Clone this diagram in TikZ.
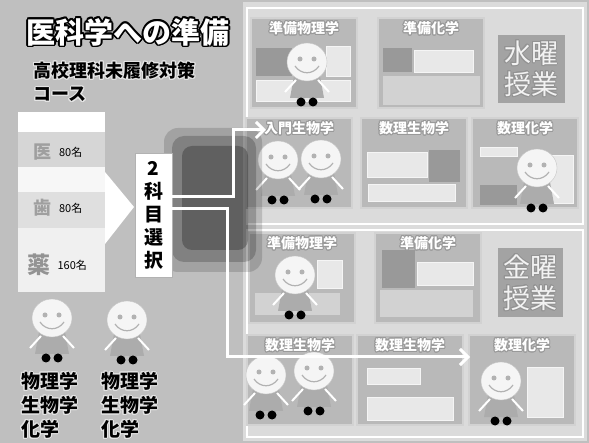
\documentclass[tikz,border=0pt]{standalone}
\usepackage{fontspec}
\setmainfont{Noto Sans CJK JP}
\usepackage{contour}
\contourlength{1pt}
\usetikzlibrary{positioning, arrows.meta}
\tikzstyle{panel} = [rectangle, inner sep=0pt, minimum width=106pt, minimum height=90pt, fill=gray!55, draw=gray!35, line width=1.5pt]
\tikzstyle{daypanel} = [rectangle, inner sep=0pt, minimum width=67pt, minimum height=68pt, fill=gray!72, text=gray!10, align=center, font=\fontsize{27}{31}\selectfont]
\tikzstyle{ptitle} = [text=white, inner sep=1pt, font=\bfseries\fontsize{14}{15}\selectfont]
\tikzstyle{bar} = [fill=gray!18, draw=gray!8]
\tikzstyle{block} = [fill=gray!80]
\tikzstyle{warrow} = [draw=white, line width=3pt, -{Straight Barb[length=8pt, width=16pt, line width=3pt]}]
\newcommand{\halo}[1]{\contour{gray!20}{#1}}

\tikzset{kid/.pic={
    \fill[gray!65] (-13,14) -- (13,14) -- (17,36) -- (-17,36) -- cycle;
    \draw[white, line width=2pt] (-11,18) -- (-22,30) (11,18) -- (22,30);
    \fill[black] (-6,40) circle (4.5) (6,40) circle (4.5);
    \filldraw[fill=gray!8, draw=gray!45] (0,0) ellipse (20 and 19);
    \fill[gray!60] (-7,-3) circle (2.5) (7,-3) circle (2.5);
    \draw[gray!60, line width=1.2pt] (-12,4) .. controls (-6,13) and (6,13) .. (12,4);
}}

\begin{document}
\begin{tikzpicture}[x=1pt, y=-1pt]
    \useasboundingbox (0,0) rectangle (589,443);
    \fill[gray!50] (0,0) rectangle (589,443);

    % course frame on the right
    \fill[gray!28] (243,2) rectangle (587,441);
    \draw[white, line width=2pt] (247,8) rectangle (583,224);
    \draw[white, line width=2pt] (247,230) rectangle (583,437);

    \node (p1) [panel] at (304,63) {};
    \node (p2) [panel] at (431,63) {};
    \node (wed) [daypanel] at (531,69) {\contour{gray!85}{水曜}\\\contour{gray!85}{授業}};
    \node (p4) [panel] at (299,163) {};
    \node (p5) [panel] at (414,163) {};
    \node (p6) [panel] at (525,163) {};
    \node (p7) [panel] at (302,278) {};
    \node (p8) [panel] at (428,278) {};
    \node (fri) [daypanel, minimum width=65pt, minimum height=69pt] at (530,283) {\contour{gray!85}{金曜}\\\contour{gray!85}{授業}};
    \node (p10) [panel] at (300,380) {};
    \node (p11) [panel] at (410,380) {};
    \node (p12) [panel] at (522,380) {};

    \fill[block] (256,48) rectangle (292,76);
    \fill[bar] (256,80) rectangle (350,101);
    \fill[bar] (326,46) rectangle (350,76);
    \fill[block] (383,48) rectangle (412,72);
    \fill[bar] (414,50) rectangle (473,72);
    \fill[gray!35] (383,76) rectangle (480,105);
    \fill[bar] (367,152) rectangle (427,177);
    \fill[block] (429,150) rectangle (460,182);
    \fill[bar] (368,184) rectangle (455,201);
    \fill[bar] (480,147) rectangle (517,156);
    \fill[bar] (542,155) rectangle (573,203);
    \fill[block] (480,185) rectangle (517,205);
    \fill[bar] (317,260) rectangle (342,288);
    \fill[gray!35] (255,293) rectangle (340,315);
    \fill[block] (382,250) rectangle (415,288);
    \fill[bar] (417,262) rectangle (473,285);
    \fill[gray!35] (380,290) rectangle (473,317);
    \fill[bar] (367,368) rectangle (420,384);
    \fill[bar] (367,397) rectangle (453,420);
    \fill[bar] (527,367) rectangle (563,417);

    \node (t1) [ptitle, below=3pt of p1.north] {\contour{gray!80}{準備物理学}};
    \node (t2) [ptitle, below=3pt of p2.north] {\contour{gray!80}{準備化学}};
    \node (t4) [ptitle, below=3pt of p4.north] {\contour{gray!80}{入門生物学}};
    \node (t5) [ptitle, below=3pt of p5.north] {\contour{gray!80}{数理生物学}};
    \node (t6) [ptitle, below=3pt of p6.north] {\contour{gray!80}{数理化学}};
    \node (t7) [ptitle, below=3pt of p7.north] {\contour{gray!80}{準備物理学}};
    \node (t8) [ptitle, below=3pt of p8.north] {\contour{gray!80}{準備化学}};
    \node (t10) [ptitle, below=3pt of p10.north] {\contour{gray!80}{数理生物学}};
    \node (t11) [ptitle, below=3pt of p11.north] {\contour{gray!80}{数理生物学}};
    \node (t12) [ptitle, below=3pt of p12.north] {\contour{gray!80}{数理化学}};

    \pic at (307,62) {kid};
    \pic at (278,160) {kid};
    \pic at (321,159) {kid};
    \pic at (537,168) {kid};
    \pic at (295,275) {kid};
    \pic at (266,375) {kid};
    \pic at (314,371) {kid};
    \pic at (501,381) {kid};

    % title and faculty column
    \node (title) [text=white, font=\bfseries\fontsize{29}{30}\selectfont] at (128,33) {\contourlength{1.6pt}\contour{black}{医科学への準備}};
    \node (course) [anchor=west, font=\bfseries\fontsize{18}{19}\selectfont] at (30,71) {\halo{高校理科未履修対策}};
    \node (course2) [below=0pt of course.south west, anchor=north west, font=\bfseries\fontsize{18}{19}\selectfont] {\halo{コース}};

    \fill[white] (18,112) rectangle (105,132);
    \fill[gray!32] (18,132) rectangle (105,167);
    \fill[gray!6] (18,167) rectangle (105,192);
    \fill[gray!25] (18,192) rectangle (105,228);
    \fill[gray!12] (18,228) rectangle (105,292);
    \fill[white] (105,172) -- (134,207) -- (105,244) -- cycle;

    \node (med) [text=gray!75, font=\bfseries\fontsize{18}{18}\selectfont] at (42,152) {医};
    \node (medn) [right=1pt of med, font=\fontsize{11}{11}\selectfont] {80名};
    \node (dent) [text=gray!75, font=\bfseries\fontsize{18}{18}\selectfont] at (42,208) {歯};
    \node (dentn) [right=1pt of dent, font=\fontsize{11}{11}\selectfont] {80名};
    \node (pharm) [text=gray!85, font=\bfseries\fontsize{23}{23}\selectfont] at (39,265) {薬};
    \node (pharmn) [right=0pt of pharm, font=\fontsize{11}{11}\selectfont] {160名};

    % soft shadow behind the choice box
    \fill[black, opacity=0.15, rounded corners=14pt] (164,128) rectangle (262,272);
    \fill[black, opacity=0.2, rounded corners=12pt] (172,136) rectangle (256,262);
    \fill[black, opacity=0.25, rounded corners=10pt] (182,146) rectangle (248,250);

    \node (sel) [fill=white, draw=gray!60, inner sep=0pt, minimum width=37pt, minimum height=124pt, align=center, font=\bfseries\fontsize{19}{23}\selectfont] at (153.5,215) {2\\科\\目\\選\\択};

    \coordinate (up) at (266,130);
    \coordinate (low) at (470,357);
    \draw [warrow] ([yshift=18pt]sel.east) -- ++(61,0) |- (up);
    \draw [warrow] ([yshift=6pt]sel.east) -- ++(55,0) |- (low);

    \pic at (52,318) {kid};
    \pic at (127,320) {kid};
    \node (subjA) [anchor=north west, align=left, inner sep=0pt, font=\bfseries\fontsize{19}{24}\selectfont] at (21,372) {\halo{物理学}\\\halo{生物学}\\\halo{化学}};
    \node (subjB) [anchor=north west, align=left, inner sep=0pt, font=\bfseries\fontsize{19}{24}\selectfont] at (101,372) {\halo{物理学}\\\halo{生物学}\\\halo{化学}};
\end{tikzpicture}
\end{document}
